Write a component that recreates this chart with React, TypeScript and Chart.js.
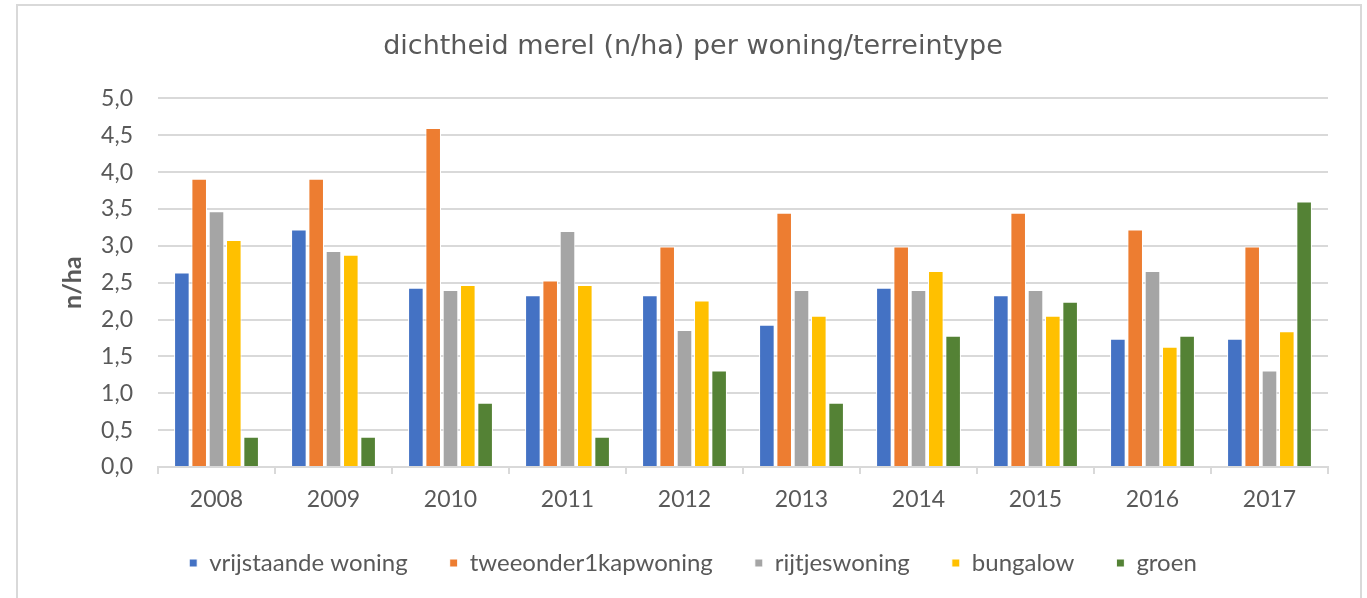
import React, { useEffect, useRef } from "react";
import { Chart, registerables } from "chart.js";

Chart.register(...registerables);

const years = ["2008", "2009", "2010", "2011", "2012", "2013", "2014", "2015", "2016", "2017"];
const vrijstaande = [2.64, 3.22, 2.43, 2.33, 2.33, 1.93, 2.43, 2.33, 1.74, 1.74];
const tweeonder1kap = [3.91, 3.91, 4.6, 2.53, 2.99, 3.45, 2.99, 3.45, 3.22, 2.99];
const rijtjes = [3.47, 2.93, 2.4, 3.2, 1.86, 2.4, 2.4, 2.4, 2.66, 1.31];
const bungalow = [3.08, 2.88, 2.47, 2.47, 2.26, 2.05, 2.66, 2.05, 1.63, 1.84];
const groen = [0.41, 0.41, 0.87, 0.41, 1.31, 0.87, 1.78, 2.24, 1.78, 3.6];
const seriesNames = ["vrijstaande woning", "tweeonder1kapwoning", "rijtjeswoning", "bungalow", "groen"];
const seriesColors = ["#4472C4", "#ED7D31", "#A5A5A5", "#FFC000", "#548235"];
const titleText = "dichtheid merel (n/ha) per woning/terreintype";
const yTitle = "n/ha";

const TEXT = "#595959";
const GRID = "#d9d9d9";
const FONT = "Lato";

const frame = {
  id: "frame",
  afterDraw(chart: any) {
    const ctx = chart.ctx;
    ctx.save();
    ctx.strokeStyle = GRID;
    ctx.lineWidth = 2;
    ctx.strokeRect(17, 5, 1344, 700);
    ctx.restore();
  },
};

export default function App() {
  const ref = useRef<HTMLCanvasElement>(null);
  useEffect(() => {
    const values = [vrijstaande, tweeonder1kap, rijtjes, bungalow, groen];
    const chart = new Chart(ref.current as HTMLCanvasElement, {
      type: "bar",
      data: {
        labels: years,
        datasets: seriesNames.map((n, i) => ({
          label: n,
          data: values[i],
          backgroundColor: seriesColors[i],
          borderColor: "#ffffff",
          borderWidth: 1,
          categoryPercentage: 0.74,
          barPercentage: 0.9,
        })),
      },
      options: {
        animation: false,
        responsive: false,
        maintainAspectRatio: false,
        layout: { padding: { left: 58, right: 39, top: 5, bottom: 13 } },
        plugins: {
          title: {
            display: true,
            text: titleText,
            color: TEXT,
            font: { family: "DejaVu Sans", size: 27, weight: "normal" },
            padding: { top: 26, bottom: 35 },
          },
          legend: {
            position: "bottom",
            labels: {
              color: TEXT,
              font: { family: FONT, size: 24 },
              boxWidth: 8,
              boxHeight: 8,
              padding: 42,
            },
          },
          tooltip: { enabled: false },
        },
        scales: {
          x: {
            grid: {
              drawOnChartArea: false,
              drawTicks: true,
              tickLength: 7,
              color: GRID,
              lineWidth: 2,
              offset: true,
            },
            border: { color: GRID, width: 2 },
            ticks: { color: TEXT, font: { family: FONT, size: 23 }, padding: 12 },
            afterFit: (s: any) => {
              s.height = 42;
            },
          },
          y: {
            min: 0,
            max: 5,
            grid: { color: GRID, lineWidth: 2, drawTicks: false },
            border: { display: false },
            ticks: {
              stepSize: 0.5,
              color: TEXT,
              font: { family: FONT, size: 23 },
              padding: 25,
              callback: (v: any) => Number(v).toFixed(1).replace(".", ","),
            },
            title: {
              display: true,
              text: yTitle,
              color: TEXT,
              font: { family: FONT, size: 25, weight: "bold", lineHeight: 1 },
              padding: { top: 2, bottom: 0 },
            },
            afterFit: (s: any) => {
              s.width = 100;
            },
          },
        },
      },
      plugins: [frame],
    });
    return () => chart.destroy();
  }, []);
  return (
    <div style={{ position: "fixed", left: 0, top: 0, width: 1367, height: 598, background: "#fff" }}>
      <canvas ref={ref} width={1367} height={598} style={{ display: "block" }} />
    </div>
  );
}
